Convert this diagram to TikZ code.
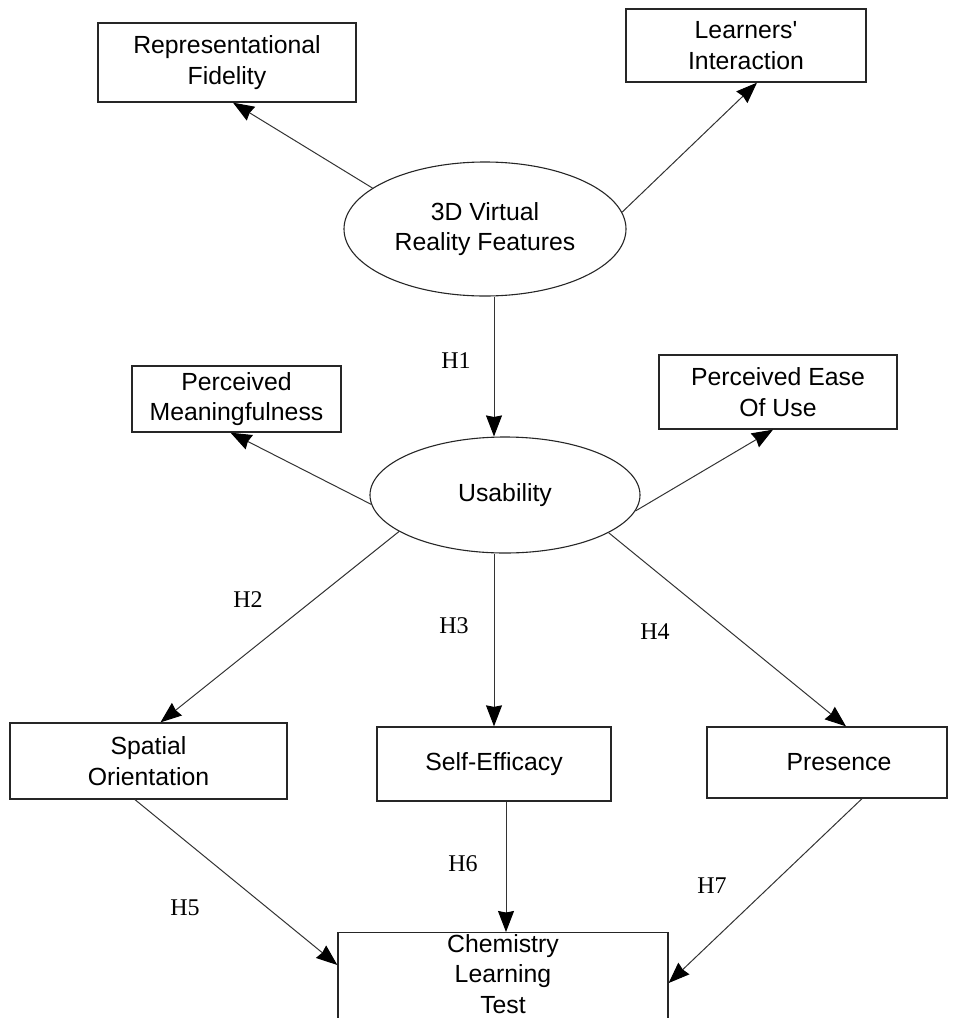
\documentclass[tikz,border=0pt]{standalone}
\usepackage{fontspec}
\setmainfont{Liberation Sans}
\newfontfamily\hypfont{Liberation Serif}
\usetikzlibrary{arrows.meta,calc,shapes.geometric}

\begin{document}
\begin{tikzpicture}[x=1pt,y=-1pt,
  box/.style={draw=black!85, line width=1.3pt, rectangle, inner sep=0pt,
    align=center, font=\fontsize{24.8}{30.5}\selectfont},
  oval/.style={draw=black!85, line width=1.1pt, ellipse, inner sep=0pt,
    align=center, font=\fontsize{24.8}{30.5}\selectfont},
  arr/.style={draw=black!80, line width=1pt,
    -{Stealth[length=21pt,width=16pt,inset=1.5pt,black]}},
  hyp/.style={font=\hypfont\fontsize{24}{28}\selectfont, inner sep=0pt}]

\useasboundingbox (0,0) rectangle (955,1018);
\clip (0,0) rectangle (955,1018);

% constructs
\node[box, minimum width=258, minimum height=79] (rf) at (227,62.5) {Representational\\Fidelity};
\node[box, minimum width=240, minimum height=73] (li) at (746,45.5) {Learners\textquotesingle\\Interaction};
\node[oval, minimum width=282, minimum height=134] (vr) at (485,229) {3D Virtual\\Reality Features};
\node[box, minimum width=209, minimum height=66] (pm) at (236.5,399) {Perceived\\Meaningfulness};
\node[box, minimum width=238, minimum height=74] (pe) at (778,392) {Perceived Ease\\Of Use};
\node[oval, minimum width=270, minimum height=116] (us) at (505,495) {Usability};
\node[box, minimum width=277, minimum height=76] (so) at (148.5,761) {Spatial\\Orientation};
\node[box, minimum width=234, minimum height=74] (se) at (494,764) {Self-Efficacy};
\node[box, minimum width=240, minimum height=71] (pr) at (827,762.5) {\hspace*{24pt}Presence};
\node[box, minimum width=330, minimum height=140, anchor=north] (clt) at (503,932) {};
\node[box, draw=none, anchor=north] (cltt) at ($(clt.north)+(0,1.5)$) {Chemistry\\Learning\\Test};

% paths
\draw[arr] (vr.160) -- ($(rf.south)+(6,0)$);
\draw[arr] (vr.7) -- ($(li.south)+(11,0)$);
\draw[arr] (vr.south -| se.north) -- (us.north -| se.north);
\draw[arr] (us.184) -- ($(pm.south)+(-6,0)$);
\draw[arr] (us.353) -- ($(pe.south)+(-5,0)$);
\draw[arr] (us.199) -- ($(so.north)+(12,0)$);
\draw[arr] (us.south -| se.north) -- (se.north);
\draw[arr] (us.340) -- ($(pr.north)+(19,0)$);
\coordinate (sofoot) at ($(so.south)+(-13.5,0)$);
\coordinate (sefoot) at ($(se.south)+(12,0)$);
\coordinate (prfoot) at ($(pr.south)+(35,0)$);
\draw[arr] (sofoot) -- ($(clt.north west)+(0,33)$);
\draw[arr] (sefoot) -- (sefoot |- clt.north);
\draw[arr] (prfoot) -- ($(clt.north east)+(0,51)$);

% hypothesis labels
\node[hyp] (h1) at (456,361) {H1};
\node[hyp] (h2) at (248,600) {H2};
\node[hyp] (h3) at (454,626) {H3};
\node[hyp] (h4) at (655,632) {H4};
\node[hyp] (h5) at (185,908) {H5};
\node[hyp] (h6) at (463,864) {H6};
\node[hyp] (h7) at (712,886) {H7};
\end{tikzpicture}
\end{document}
